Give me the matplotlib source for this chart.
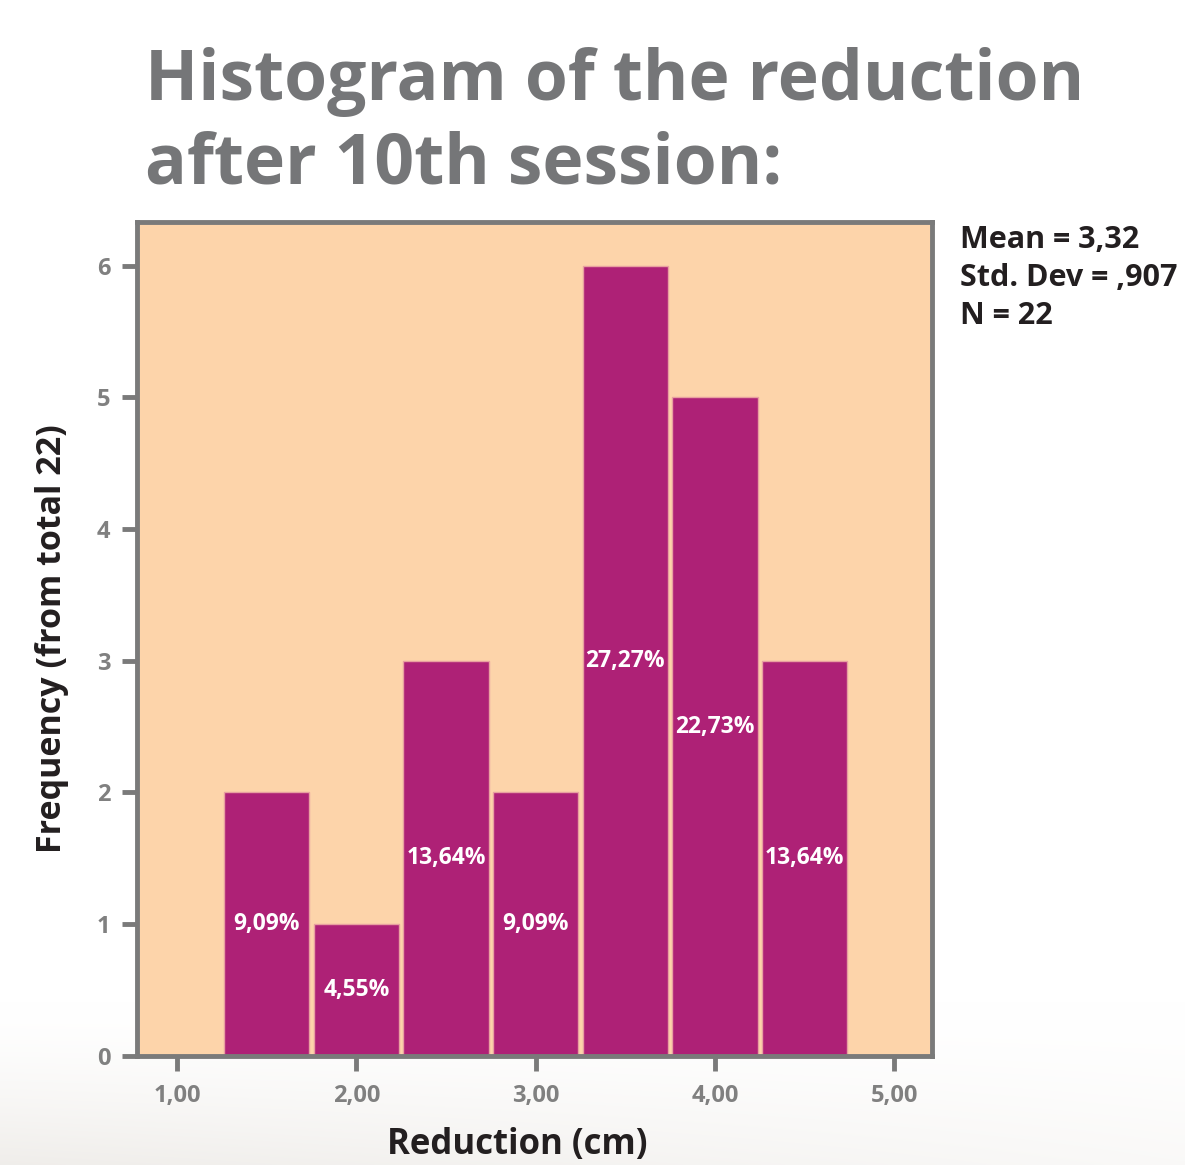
import matplotlib
matplotlib.use("Agg")
import matplotlib.pyplot as plt
import numpy as np

# Data
bin_centers = [1.5, 2.0, 2.5, 3.0, 3.5, 4.0, 4.5]
counts = [2, 1, 3, 2, 6, 5, 3]
pct_labels = ["9,09%", "4,55%", "13,64%", "9,09%", "27,27%", "22,73%", "13,64%"]
xticks = [1, 2, 3, 4, 5]
xtick_labels = ["1,00", "2,00", "3,00", "4,00", "5,00"]
yticks = [0, 1, 2, 3, 4, 5, 6]
stats_lines = ["Mean = 3,32", "Std. Dev = ,907", "N = 22"]
title_lines = ["Histogram of the reduction", "after 10th session:"]

plt.rcParams['font.family'] = ['Open Sans', 'DejaVu Sans']

BG = "#FDD4AA"
BAR = "#AE2176"
SPINE = "#7a7a7a"
TICKC = "#808080"
DARK = "#231f20"
TITLEC = "#757678"

fig = plt.figure(figsize=(11.85, 11.65), dpi=100)

# subtle background shading at the bottom of the page
bgax = fig.add_axes([0, 0, 1, 0.14], zorder=-10)
yy = np.linspace(1, 0, 80)[:, None]
xx = np.linspace(1, 0, 120)[None, :]
dark = 0.06 * (1 - yy) ** 1.5 * (0.35 + 0.65 * xx)
img = np.dstack([1 - dark, 1 - dark * 1.15, 1 - dark * 1.35])
bgax.imshow(np.clip(img, 0, 1), aspect="auto", extent=[0, 1, 0, 1], interpolation="bilinear")
bgax.set_axis_off()

ax = fig.add_axes([0.1156, 0.0936, 0.671, 0.7158])
ax.set_facecolor(BG)

ax.bar(bin_centers, counts, width=0.475, color=BAR, edgecolor="#E8A0A0", linewidth=1, zorder=2)
for xc, c, lab in zip(bin_centers, counts, pct_labels):
    ax.text(xc, c / 2, lab, ha="center", va="center", color="white",
            fontsize=16.5, fontweight="bold", zorder=3)

ax.set_xlim(0.777, 5.21)
ax.set_ylim(0, 6.33)
ax.set_xticks(xticks)
ax.set_xticklabels(xtick_labels)
ax.set_yticks(yticks)
for s in ax.spines.values():
    s.set_color(SPINE)
    s.set_linewidth(3.5)
ax.tick_params(axis="both", colors=SPINE, width=3.5, length=11, labelcolor=TICKC)
ax.tick_params(axis="x", pad=9)
ax.tick_params(axis="y", pad=8)
for lab in ax.get_xticklabels() + ax.get_yticklabels():
    lab.set_fontweight("bold")
    lab.set_fontsize(17)
    lab.set_color(TICKC)

ax.set_xlabel("Reduction (cm)", fontsize=25, fontweight="bold", color=DARK)
ax.xaxis.set_label_coords((517 - 137) / 795, -0.085)
ax.set_ylabel("Frequency (from total 22)", fontsize=24.5, fontweight="bold", color=DARK)
ax.yaxis.set_label_coords(-0.085, 0.5)

fig.text(145 / 1185, 1 - 100 / 1165, title_lines[0], fontsize=50, fontweight="bold",
         color=TITLEC, ha="left", va="baseline")
fig.text(145 / 1185, 1 - 184 / 1165, title_lines[1], fontsize=50, fontweight="bold",
         color=TITLEC, ha="left", va="baseline")

for i, line in enumerate(stats_lines):
    fig.text(960 / 1185, 1 - (248 + 38 * i) / 1165, line, fontsize=22,
             fontweight="bold", color=DARK, ha="left", va="baseline")

fig.savefig("out.png", dpi=100)
